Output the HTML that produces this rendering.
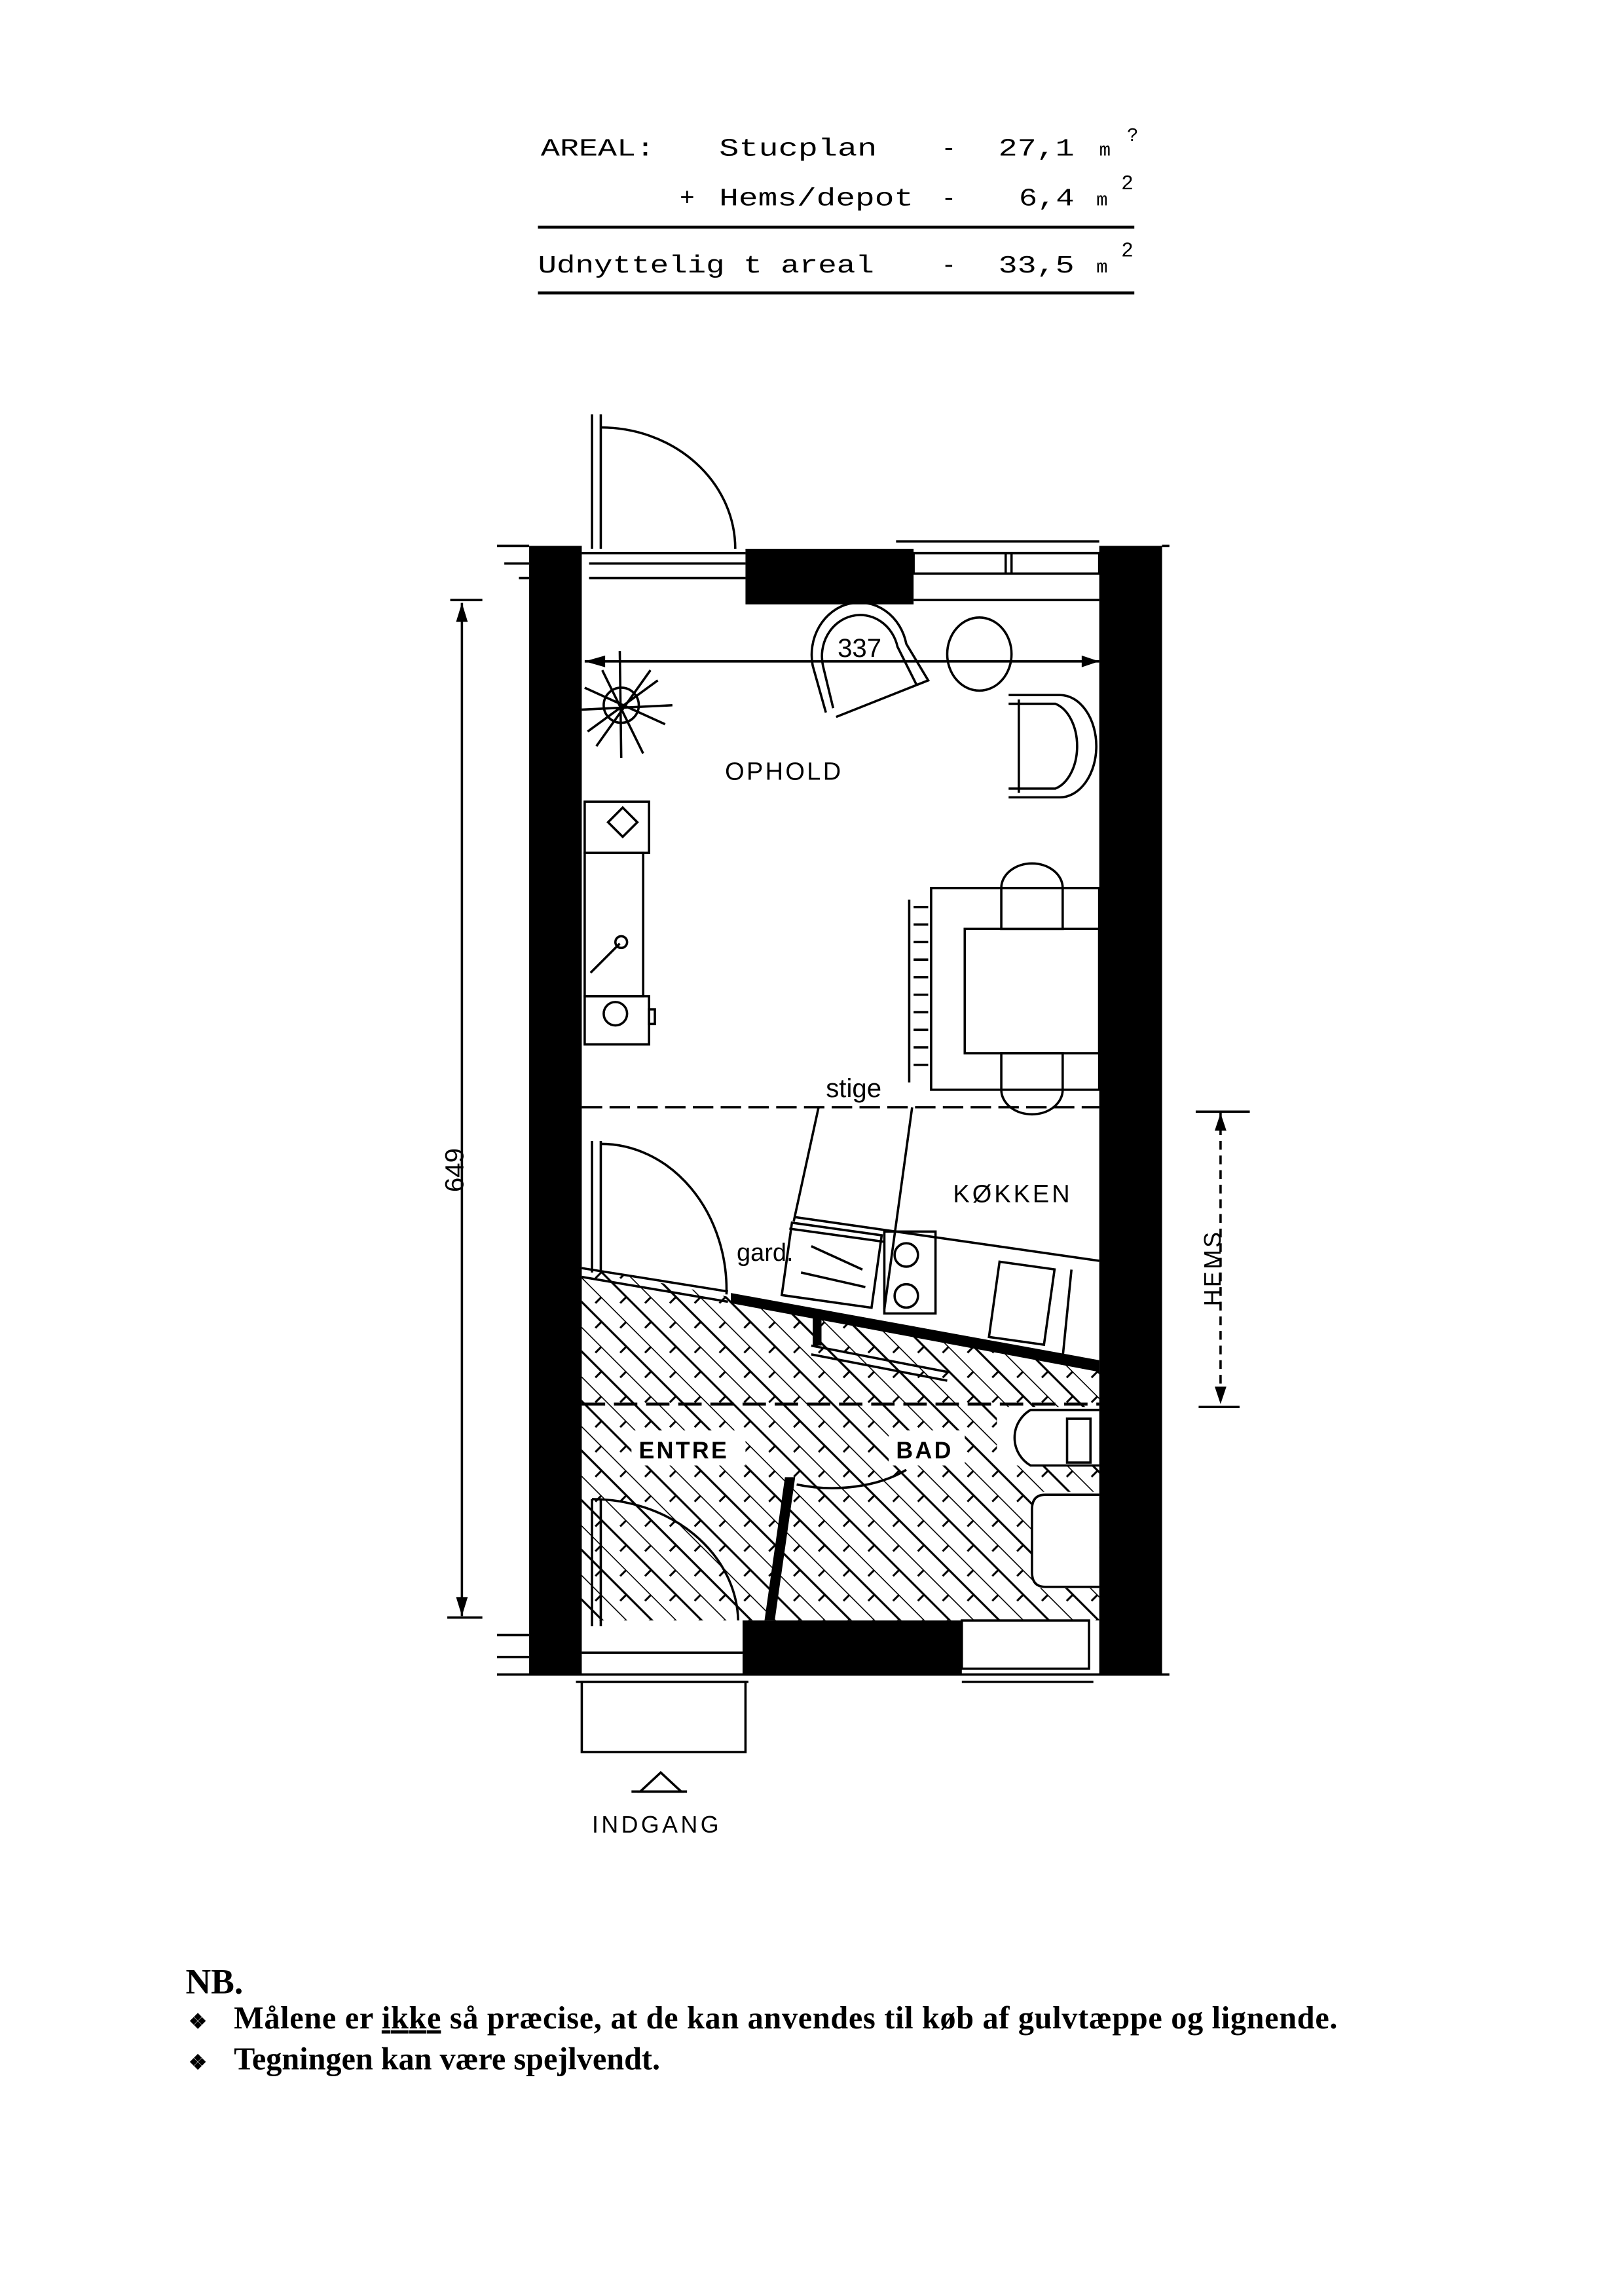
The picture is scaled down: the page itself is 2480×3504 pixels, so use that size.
<!DOCTYPE html>
<html><head><meta charset="utf-8"><style>
html,body{margin:0;padding:0;background:#fff}
svg{display:block}
</style></head><body>
<svg width="2480" height="3504" viewBox="0 0 1111 1569" xmlns="http://www.w3.org/2000/svg">
<defs>
<pattern id="hatch" width="24" height="24" patternUnits="userSpaceOnUse" patternTransform="rotate(45)">
<line x1="0" y1="0" x2="24" y2="0" stroke="#000" stroke-width="1.4"/>
<line x1="0" y1="12" x2="24" y2="12" stroke="#000" stroke-width="1.4"/>
<line x1="6" y1="0" x2="6" y2="6" stroke="#000" stroke-width="1.4"/>
<line x1="18" y1="12" x2="18" y2="18" stroke="#000" stroke-width="1.4"/>
</pattern>
</defs>
<rect width="1111" height="1569" fill="#fff"/>

<g font-family="Liberation Mono, monospace" font-size="17" fill="#000">
<text x="370" y="106" textLength="78" lengthAdjust="spacingAndGlyphs">AREAL:</text>
<text x="492" y="106" textLength="108" lengthAdjust="spacingAndGlyphs">Stucplan</text>
<text x="644" y="106">-</text>
<text x="683" y="106" textLength="52" lengthAdjust="spacingAndGlyphs">27,1</text>
<text x="752" y="106" font-size="13">m</text>
<text x="771" y="96" font-size="13">?</text>
<text x="465" y="140">+</text>
<text x="492" y="140" textLength="133" lengthAdjust="spacingAndGlyphs">Hems/depot</text>
<text x="644" y="140">-</text>
<text x="697" y="140" textLength="38" lengthAdjust="spacingAndGlyphs">6,4</text>
<text x="750" y="140" font-size="13">m</text>
<text x="767" y="129" font-size="14">2</text>
<text x="368" y="186" textLength="230" lengthAdjust="spacingAndGlyphs">Udnyttelig t  areal</text>
<text x="644" y="186">-</text>
<text x="683" y="186" textLength="52" lengthAdjust="spacingAndGlyphs">33,5</text>
<text x="750" y="186" font-size="13">m</text>
<text x="767" y="175" font-size="14">2</text>
</g>
<line x1="368" y1="155" x2="776" y2="155" stroke="#000" stroke-width="2"/>
<line x1="368" y1="200" x2="776" y2="200" stroke="#000" stroke-width="2"/>

<polygon points="398,866 500,887 752,935 752,1108 398,1108" fill="url(#hatch)"/>
<rect x="682" y="962" width="70" height="40" fill="#fff"/>
<rect x="706" y="1020" width="46" height="66" fill="#fff"/>
<rect x="432" y="978" width="78" height="24" fill="#fff"/>
<rect x="608" y="978" width="52" height="24" fill="#fff"/>

<rect x="362" y="373" width="36" height="772" fill="#000"/>
<rect x="752" y="373" width="43" height="772" fill="#000"/>
<rect x="510" y="375" width="115" height="38" fill="#000"/>
<rect x="508" y="1108" width="150" height="37" fill="#000"/>
<polygon points="500,884 752,930 752,938 500,891" fill="#000"/>
<rect x="556" y="898" width="6" height="22" fill="#000"/>
<polygon points="537,1010 544,1010 530,1108 523,1108" fill="#000"/>

<g stroke="#000" stroke-width="1.6" fill="none">
<line x1="340" y1="373" x2="362" y2="373"/><line x1="345" y1="385" x2="362" y2="385"/><line x1="355" y1="395" x2="362" y2="395"/>
<line x1="340" y1="1145" x2="800" y2="1145"/><line x1="340" y1="1118" x2="362" y2="1118"/><line x1="340" y1="1133" x2="362" y2="1133"/>
<line x1="795" y1="373" x2="800" y2="373"/>
<line x1="398" y1="378" x2="510" y2="378"/><line x1="403" y1="385" x2="510" y2="385"/><line x1="403" y1="395" x2="510" y2="395"/>
<line x1="405" y1="283" x2="405" y2="375"/><line x1="411" y1="283" x2="411" y2="375"/>
<path d="M411 292 A92 83 0 0 1 503 375"/>
<line x1="613" y1="370" x2="752" y2="370"/>
<rect x="625" y="378" width="127" height="14"/><line x1="625" y1="410" x2="752" y2="410"/>
<line x1="688" y1="378" x2="688" y2="392"/><line x1="692" y1="378" x2="692" y2="392"/>
<line x1="400" y1="452" x2="752" y2="452"/>
<path d="M565 487 L556 455 A32 35 0 0 1 620 440 L635 465 L572 490"/>
<path d="M570 484 L563 455 A26 28 0 0 1 614 442 L627 468"/>
<ellipse cx="670" cy="447" rx="22" ry="25"/>
<path d="M690 475 L725 475 A25 35 0 0 1 725 545 L690 545 M697 478 L697 542 M690 481 L722 481 A20 30 0 0 1 722 539 L690 539"/>
<path d="M424 445 L425 518 M400 470 L455 495 M402 500 L450 465 M412 458 L440 515 M445 458 L408 510 M398 485 L460 482"/>
<circle cx="425" cy="482" r="12"/>
<rect x="400" y="548" width="44" height="35"/><rect x="400" y="583" width="40" height="98"/><rect x="400" y="681" width="44" height="33"/>
<circle cx="421" cy="693" r="8"/><rect x="444" y="690" width="4" height="10"/>
<line x1="404" y1="665" x2="424" y2="645"/><circle cx="425" cy="644" r="4"/>
<path d="M416 562 L426 552 L436 562 L426 572 Z"/>
<rect x="637" y="607" width="115" height="138"/>
<rect x="660" y="635" width="92" height="85"/>
<path d="M622 615 L622 740 M625 620 l10 0 M625 632 l10 0 M625 644 l10 0 M625 656 l10 0 M625 668 l10 0 M625 680 l10 0 M625 692 l10 0 M625 704 l10 0 M625 716 l10 0 M625 728 l10 0"/>
<path d="M685 607 A20 16 0 0 1 727 607 L727 635 L685 635 Z M685 745 A20 16 0 0 0 727 745 L727 720 L685 720 Z"/>
<line x1="398" y1="757" x2="752" y2="757" stroke-dasharray="14 5"/>
<line x1="560" y1="757" x2="543" y2="835"/><line x1="624" y1="757" x2="605" y2="895"/>
<path d="M543 832 L752 862"/><path d="M540 840 L605 849"/>
<rect x="538" y="840" width="62" height="50" transform="rotate(8 569 865)"/>
<path d="M555 852 L590 868 M548 870 L592 880"/>
<rect x="605" y="842" width="35" height="56"/>
<circle cx="620" cy="858" r="8"/><circle cx="620" cy="886" r="8"/>
<rect x="680" y="865" width="38" height="52" transform="rotate(8 699 891)"/>
<line x1="733" y1="868" x2="727" y2="928"/>
<line x1="405" y1="780" x2="405" y2="870"/><line x1="411" y1="780" x2="411" y2="870"/>
<path d="M411 782 A86 100 0 0 1 497 885"/>
<line x1="398" y1="867" x2="498" y2="883"/><line x1="398" y1="873" x2="498" y2="890"/>
<line x1="555" y1="920" x2="648" y2="938"/><line x1="555" y1="926" x2="648" y2="944"/>
<line x1="398" y1="960" x2="752" y2="960" stroke-dasharray="16 6" stroke-width="2"/>
<path d="M545 1015 A70 40 0 0 0 620 1005"/>
<path d="M752 964 L705 964 A22 22 0 0 0 705 1002 L752 1002"/><rect x="730" y="970" width="16" height="30"/>
<path d="M752 1022 L715 1022 Q706 1022 706 1032 L706 1075 Q706 1085 715 1085 L752 1085"/>
<line x1="405" y1="1025" x2="405" y2="1112"/><line x1="411" y1="1025" x2="411" y2="1112"/>
<path d="M405 1025 A100 85 0 0 1 505 1108"/>
<line x1="398" y1="1130" x2="508" y2="1130"/>
<line x1="394" y1="1150" x2="512" y2="1150"/>
<rect x="398" y="1150" width="112" height="48"/>
<rect x="658" y="1108" width="87" height="33"/><line x1="658" y1="1150" x2="748" y2="1150"/>
<path d="M452 1212 L466 1225 L438 1225 Z"/><line x1="432" y1="1225" x2="470" y2="1225"/>
<line x1="316" y1="412" x2="316" y2="1105"/>
<line x1="308" y1="410" x2="330" y2="410"/><line x1="306" y1="1106" x2="330" y2="1106"/>
<line x1="835" y1="760" x2="835" y2="960" stroke-dasharray="6 4"/>
<line x1="818" y1="760" x2="855" y2="760"/><line x1="820" y1="962" x2="848" y2="962"/>
</g>
<g fill="#000">
<polygon points="400,452 414,448 414,456"/><polygon points="752,452 740,448 740,456"/>
<polygon points="316,412 312,425 320,425"/><polygon points="316,1105 312,1092 320,1092"/>
<polygon points="835,761 831,773 839,773"/><polygon points="835,960 831,948 839,948"/>
</g>
<g font-family="Liberation Sans, sans-serif" font-size="17" fill="#000">
<text x="573" y="449" font-size="18">337</text>
<text x="496" y="533" letter-spacing="1.5">OPHOLD</text>
<text x="565" y="750" font-size="18">stige</text>
<text x="652" y="822" letter-spacing="1.8">KØKKEN</text>
<text x="504" y="862" font-size="17">gard.</text>
<text x="437" y="997" letter-spacing="1.5" font-weight="bold" font-size="16">ENTRE</text>
<text x="613" y="997" letter-spacing="1.5" font-weight="bold" font-size="16">BAD</text>
<text x="405" y="1253" letter-spacing="2" font-size="16">INDGANG</text>
<text transform="translate(317,815) rotate(-90)" font-size="18">649</text>
<text transform="translate(835,893) rotate(-90)" font-size="16" letter-spacing="1.5">HEMS</text>
</g>

<g font-family="Liberation Serif, serif" font-weight="bold" fill="#000">
<text x="127" y="1363" font-size="24">NB.</text>
<text x="129" y="1387" font-size="14">❖</text>
<text x="160" y="1387" font-size="21.6" textLength="755" lengthAdjust="spacing">Målene er <tspan text-decoration="underline">ikke</tspan> så præcise, at de kan anvendes til køb af gulvtæppe og lignende.</text>
<text x="129" y="1415" font-size="14">❖</text>
<text x="160" y="1415" font-size="21.6">Tegningen kan være spejlvendt.</text>
</g>
</svg>
</body></html>
